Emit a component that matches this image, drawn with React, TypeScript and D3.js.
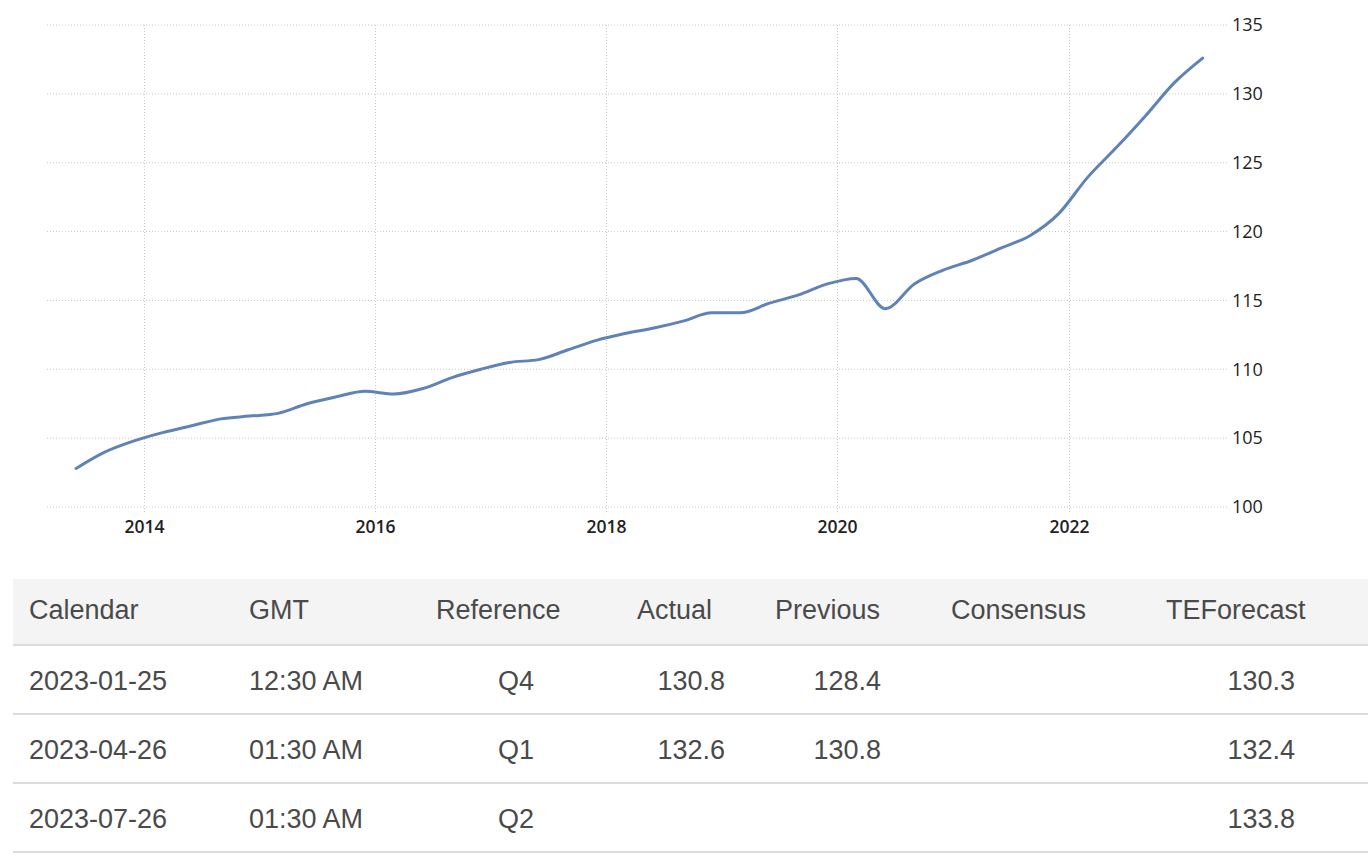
import React from "react";
import * as d3 from "d3";

// ---- Chart data (Australia CPI index, quarterly) ----
const quarterDates: string[] = [
  "2013-06-01", "2013-09-01", "2013-12-01",
  "2014-03-01", "2014-06-01", "2014-09-01", "2014-12-01",
  "2015-03-01", "2015-06-01", "2015-09-01", "2015-12-01",
  "2016-03-01", "2016-06-01", "2016-09-01", "2016-12-01",
  "2017-03-01", "2017-06-01", "2017-09-01", "2017-12-01",
  "2018-03-01", "2018-06-01", "2018-09-01", "2018-12-01",
  "2019-03-01", "2019-06-01", "2019-09-01", "2019-12-01",
  "2020-03-01", "2020-06-01", "2020-09-01", "2020-12-01",
  "2021-03-01", "2021-06-01", "2021-09-01", "2021-12-01",
  "2022-03-01", "2022-06-01", "2022-09-01", "2022-12-01",
  "2023-03-01",
];
const cpiValues: number[] = [
  102.8, 104.0, 104.8,
  105.4, 105.9, 106.4, 106.6,
  106.8, 107.5, 108.0, 108.4,
  108.2, 108.6, 109.4, 110.0,
  110.5, 110.7, 111.4, 112.1,
  112.6, 113.0, 113.5, 114.1,
  114.1, 114.8, 115.4, 116.2,
  116.6, 114.4, 116.2, 117.2,
  117.9, 118.8, 119.7, 121.3,
  123.9, 126.1, 128.4, 130.8,
  132.6,
];
const yTicks: number[] = [100, 105, 110, 115, 120, 125, 130, 135];
const xTickYears: number[] = [2014, 2016, 2018, 2020, 2022];

// ---- Table data ----
const tableHeaders: string[] = ["Calendar", "GMT", "Reference", "Actual", "Previous", "Consensus", "TEForecast"];
const calendarDates: string[] = ["2023-01-25", "2023-04-26", "2023-07-26"];
const gmtTimes: string[] = ["12:30 AM", "01:30 AM", "01:30 AM"];
const references: string[] = ["Q4", "Q1", "Q2"];
const actuals: string[] = ["130.8", "132.6", ""];
const previousValues: string[] = ["128.4", "130.8", ""];
const consensusValues: string[] = ["", "", ""];
const teForecasts: string[] = ["130.3", "132.4", "133.8"];

const W = 1372;
const H = 860;

export default function App() {
  const parse = d3.timeParse("%Y-%m-%d");
  const data = quarterDates.map((d, i) => ({ date: parse(d) as Date, value: cpiValues[i] }));

  const plotLeft = 47;
  const plotRight = 1228;
  const plotTop = 25;
  const plotBottom = 507;

  const x = d3
    .scaleTime()
    .domain([new Date(2013, 2, 1), new Date(2023, 4, 20)])
    .range([plotLeft, plotRight]);
  const y = d3.scaleLinear().domain([100, 135]).range([plotBottom, plotTop]);

  const line = d3
    .line<{ date: Date; value: number }>()
    .x((d) => x(d.date))
    .y((d) => y(d.value))
    .curve(d3.curveMonotoneX);

  const axisFont = "'Open Sans', 'DejaVu Sans', sans-serif";
  const tableFont = "'Liberation Sans', Arial, sans-serif";
  const axisColor = "#222";

  // table layout
  const headerTop = 579;
  const headerBottom = 645;
  const rowH = 69;
  const headerX = [29, 249, 436, 637, 775, 951, 1166];
  const textColor = "#4a4a4a";

  const rows = calendarDates.map((c, i) => [
    c,
    gmtTimes[i],
    references[i],
    actuals[i],
    previousValues[i],
    consensusValues[i],
    teForecasts[i],
  ]);
  const valuePos: [number, "start" | "end"][] = [
    [29, "start"],
    [249, "start"],
    [498, "start"],
    [725, "end"],
    [881, "end"],
    [1085, "end"],
    [1295, "end"],
  ];

  return (
    <svg
      width={W}
      height={H}
      style={{ position: "absolute", left: 0, top: 0, background: "#fff" }}
    >
      <rect x={0} y={0} width={W} height={H} fill="#fff" />
      {yTicks.map((t) => (
        <g key={"y" + t}>
          <line
            x1={plotLeft}
            x2={plotRight}
            y1={y(t)}
            y2={y(t)}
            stroke="#c8c8c8"
            strokeWidth={1}
            strokeDasharray="1,2"
          />
          <text
            x={1232}
            y={y(t)}
            dy="0.35em"
            fontFamily={axisFont}
            fontSize={18}
            fill={axisColor}
          >
            {t}
          </text>
        </g>
      ))}
      {xTickYears.map((yr) => {
        const xx = Math.round(x(new Date(yr, 0, 1))) + 0.5;
        return (
          <g key={"x" + yr}>
            <line
              x1={xx}
              x2={xx}
              y1={plotTop}
              y2={plotBottom + 6}
              stroke="#c8c8c8"
              strokeWidth={1}
              strokeDasharray="1,2"
            />
            <text
              x={xx}
              y={533}
              textAnchor="middle"
              fontFamily={axisFont}
              fontSize={17.5}
              fontWeight={600}
              fill={axisColor}
            >
              {yr}
            </text>
          </g>
        );
      })}
      <path
        d={line(data) || ""}
        fill="none"
        stroke="#5f82b8"
        strokeWidth={3}
        strokeLinejoin="round"
        strokeLinecap="round"
      />

      <rect x={13} y={headerTop} width={1355} height={headerBottom - headerTop} fill="#f4f4f4" />
      <line x1={13} x2={1368} y1={headerBottom} y2={headerBottom} stroke="#dcdcdc" strokeWidth={2} />
      {tableHeaders.map((h, i) => (
        <text
          key={h}
          x={headerX[i]}
          y={619}
          fontFamily={tableFont}
          fontSize={27}
          fill={textColor}
        >
          {h}
        </text>
      ))}
      {rows.map((r, ri) => (
        <g key={"r" + ri}>
          {r.map((v, ci) =>
            v ? (
              <text
                key={ci}
                x={valuePos[ci][0]}
                y={690 + ri * rowH}
                textAnchor={valuePos[ci][1]}
                fontFamily={tableFont}
                fontSize={27}
                fill={textColor}
              >
                {v}
              </text>
            ) : null
          )}
          <line
            x1={13}
            x2={1368}
            y1={headerBottom + (ri + 1) * rowH}
            y2={headerBottom + (ri + 1) * rowH}
            stroke="#dcdcdc"
            strokeWidth={2}
          />
        </g>
      ))}
    </svg>
  );
}
